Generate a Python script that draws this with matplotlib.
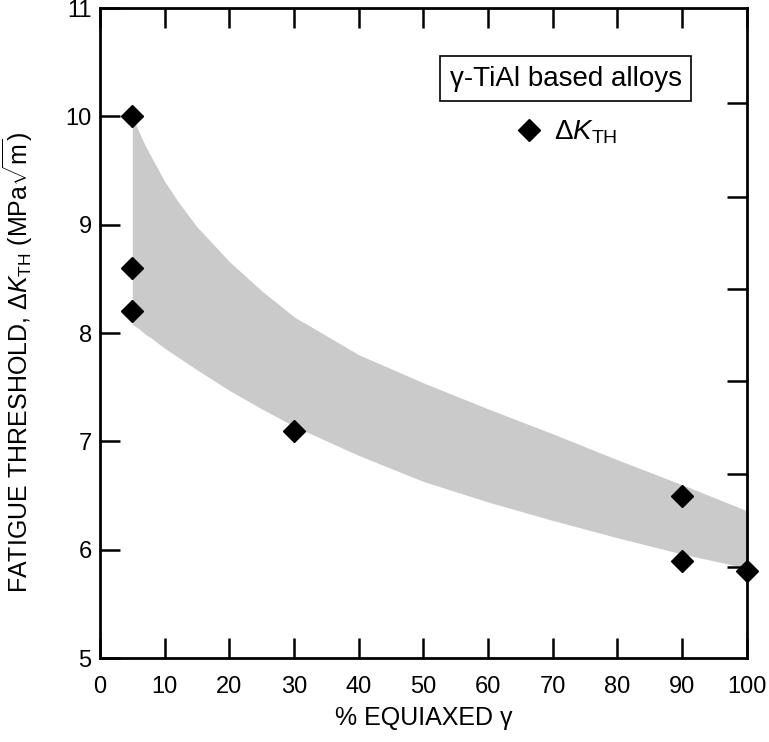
import matplotlib
matplotlib.use('Agg')
import matplotlib.pyplot as plt

plt.rcParams['font.family'] = ['Liberation Sans', 'DejaVu Sans']
plt.rcParams['mathtext.fontset'] = 'custom'
plt.rcParams['mathtext.rm'] = 'Liberation Sans'
plt.rcParams['mathtext.it'] = 'Liberation Sans:italic'
plt.rcParams['mathtext.bf'] = 'Liberation Sans:bold'

# measured thresholds
pct_equiaxed = [5, 5, 5, 30, 90, 90, 100]
dk_th = [10.0, 8.6, 8.2, 7.1, 6.5, 5.9, 5.8]

# scatter band (upper / lower bounds)
band_x = [5, 6, 7, 8, 10, 12, 15, 20, 25, 30, 40, 50, 60, 70, 80, 90, 100]
band_hi = [10.0, 9.86, 9.73, 9.62, 9.40, 9.22, 8.98, 8.66, 8.39, 8.15, 7.80,
           7.54, 7.30, 7.07, 6.83, 6.60, 6.36]
band_lo = [8.08, 8.04, 7.99, 7.95, 7.86, 7.78, 7.66, 7.47, 7.30, 7.14, 6.87,
           6.63, 6.44, 6.27, 6.11, 5.96, 5.83]

x_ticks = [0, 10, 20, 30, 40, 50, 60, 70, 80, 90, 100]
y_ticks = [5, 6, 7, 8, 9, 10, 11]
right_ticks = [5.84, 6.70, 7.56, 8.41, 9.26, 10.12]

fig = plt.figure(figsize=(7.69, 7.42), dpi=100)
ax = fig.add_axes([0.130, 0.1132, 0.841, 0.876])

ax.fill_between(band_x, band_lo, band_hi, color='#cacaca', lw=0, zorder=1)
pts, = ax.plot(pct_equiaxed, dk_th, ls='none', marker='D', ms=11, color='black',
               clip_on=False, zorder=5)

ax.set_xlim(0, 100)
ax.set_ylim(5, 11)
ax.set_xticks(x_ticks)
ax.set_yticks(y_ticks)
ax.tick_params(direction='in', length=14.5, width=1.8, labelsize=17,
               top=True, labeltop=False)
ax.tick_params(axis='x', pad=13)
ax.tick_params(axis='y', pad=6)
for s in ax.spines.values():
    s.set_linewidth(2.0)

ax2 = ax.twinx()
ax2.set_ylim(5, 11)
ax2.set_yticks(right_ticks)
ax2.tick_params(direction='in', length=14.5, width=1.8, labelright=False)
for s in ax2.spines.values():
    s.set_visible(False)

ax.set_xlabel('% EQUIAXED γ', fontsize=18)
ax.set_ylabel(r'FATIGUE THRESHOLD, $\Delta K_{\mathrm{TH}}$ (MPa$\sqrt{\mathrm{m}}$)',
              fontsize=18)
ax.xaxis.set_label_coords(0.5, -0.074)
ax.yaxis.set_label_coords(-0.100, 0.455)

ax.text(0.720, 0.891, 'γ-TiAl based alloys', transform=ax.transAxes,
        ha='center', va='center', fontsize=20,
        bbox=dict(boxstyle='square,pad=0.34', fc='white', ec='black', lw=1.2))

ax.legend([pts], [r'$\Delta K_{\mathrm{TH}}$'], loc='center',
          bbox_to_anchor=(0.722, 0.809), frameon=False, fontsize=20,
          handlelength=0.9, handletextpad=0.45, borderpad=0)

fig.savefig('out.png', dpi=100)
